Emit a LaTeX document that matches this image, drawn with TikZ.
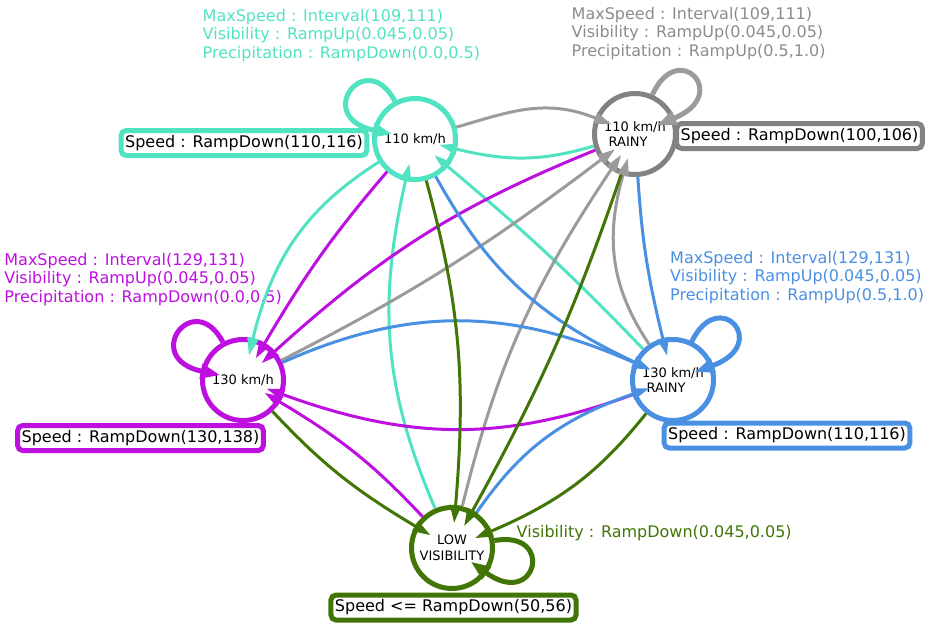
\documentclass[tikz,border=0pt]{standalone}
\usepackage{fontspec}
\setmainfont{DejaVu Sans}
\usetikzlibrary{arrows.meta,positioning}
\definecolor{tealc}{HTML}{50E3C2}
\definecolor{grayc}{HTML}{828282}
\definecolor{grayl}{HTML}{9B9B9B}
\definecolor{grayt}{HTML}{8C8C8C}
\definecolor{purplec}{HTML}{BD10E0}
\definecolor{bluec}{HTML}{4A90E2}
\definecolor{greenc}{HTML}{417505}
\begin{document}
\begin{tikzpicture}[x=1pt, y=1pt,
  state/.style={circle, draw=#1, line width=5pt, fill=white, minimum size=81pt, inner sep=0pt, font=\fontsize{13}{15.5}\selectfont},
  box/.style={draw=#1, line width=5pt, rounded corners=5pt, fill=white, inner xsep=4pt, inner ysep=0pt, minimum height=25pt, font=\fontsize{16}{19}\selectfont},
  cond/.style={text=#1, anchor=north west, inner sep=0pt, align=left, font=\fontsize{16}{18.75}\selectfont},
  tr/.style={draw=#1, line width=3pt, -{Triangle[length=18pt,width=11pt]}, shorten >=-18pt},
  loopst/.style={line width=5pt, -{Triangle[length=20pt,width=14pt]}, shorten >=-20pt, min distance=62pt}]
\useasboundingbox (0,0) rectangle (927,-624);
%states
\node[state=tealc] (kmh110) at (415,-139) {110 km/h};
\node[state=grayc, align=left] (kmh110r) at (635,-134) {110 km/h\\\hspace*{4.5pt}RAINY};
\node[state=purplec] (kmh130) at (243,-380) {130 km/h};
\node[state=bluec, align=left] (kmh130r) at (673,-380) {130 km/h\\\hspace*{4.5pt}RAINY};
\node[state=greenc, align=center] (lowvis) at (452,-548) {LOW\\VISIBILITY};
%speed boxes
\node[box=tealc] (spd110) at (244,-143) {Speed : RampDown(110,116)};
\node[box=grayc] (spd110r) at (799.5,-136) {Speed : RampDown(100,106)};
\node[box=purplec] (spd130) at (140.5,-438) {Speed : RampDown(130,138)};
\node[box=bluec] (spd130r) at (787,-435.5) {Speed : RampDown(110,116)};
\node[box=greenc] (spdlow) at (453.5,-607.5) {Speed <= RampDown(50,56)};
%guards
\node[cond=tealc] (g110) at (202.5,-8.8) {MaxSpeed : Interval(109,111)\\Visibility : RampUp(0.045,0.05)\\Precipitation : RampDown(0.0,0.5)};
\node[cond=grayt] (g110r) at (571.5,-6.8) {MaxSpeed : Interval(109,111)\\Visibility : RampUp(0.045,0.05)\\Precipitation : RampUp(0.5,1.0)};
\node[cond=purplec] (g130) at (4.2,-252.8) {MaxSpeed : Interval(129,131)\\Visibility : RampUp(0.045,0.05)\\Precipitation : RampDown(0.0,0.5)};
\node[cond=bluec] (g130r) at (670,-250.8) {MaxSpeed : Interval(129,131)\\Visibility : RampUp(0.045,0.05)\\Precipitation : RampUp(0.5,1.0)};
\node[cond=greenc, anchor=base west] (glow) at (516.5,-537) {Visibility : RampDown(0.045,0.05)};
%into 110 km/h
\draw[tr=tealc, loopst] (kmh110) to[out=118, in=168] (kmh110);
\draw[tr=tealc] (kmh110r) to[bend left=15] (kmh110);
\draw[tr=tealc] (kmh130r) to[bend right=3] (kmh110);
\draw[tr=tealc] (lowvis) to[bend left=18] (kmh110);
\draw[tr=tealc] (kmh110) to[bend right=22] (kmh130);
%into 110 km/h rainy
\draw[tr=grayl, loopst] (kmh110r) to[out=66, in=22] (kmh110r);
\draw[tr=grayl] (kmh110) to[out=16, in=158] (kmh110r);
\draw[tr=grayl] (kmh130) to[bend right=5] (kmh110r);
\draw[tr=grayl] (lowvis) to[bend left=10] (kmh110r);
\draw[tr=grayl] (kmh130r) to[bend left=25] (kmh110r);
%into 130 km/h
\draw[tr=purplec, loopst] (kmh130) to[out=118, in=168] (kmh130);
\draw[tr=purplec] (kmh110) to[bend right=5] (kmh130);
\draw[tr=purplec] (kmh110r) to[bend right=10] (kmh130);
\draw[tr=purplec] (kmh130r) to[bend left=20] (kmh130);
\draw[tr=purplec] (lowvis) to[bend right=8] (kmh130);
%into 130 km/h rainy
\draw[tr=bluec, loopst] (kmh130r) to[out=64, in=20] (kmh130r);
\draw[tr=bluec] (kmh110r) to[bend right=5] (kmh130r);
\draw[tr=bluec] (kmh110) to[bend right=18] (kmh130r);
\draw[tr=bluec] (kmh130) to[bend left=24] (kmh130r);
\draw[tr=bluec] (lowvis) to[bend left=18] (kmh130r);
%into low visibility
\draw[tr=greenc, loopst] (lowvis) to[out=10, in=-36] (lowvis);
\draw[tr=greenc] (kmh130) to[bend right=8] (lowvis);
\draw[tr=greenc] (kmh110) to[bend left=10] (lowvis);
\draw[tr=greenc] (kmh110r) to[bend left=5] (lowvis);
\draw[tr=greenc] (kmh130r) to[bend left=14] (lowvis);
\end{tikzpicture}
\end{document}
